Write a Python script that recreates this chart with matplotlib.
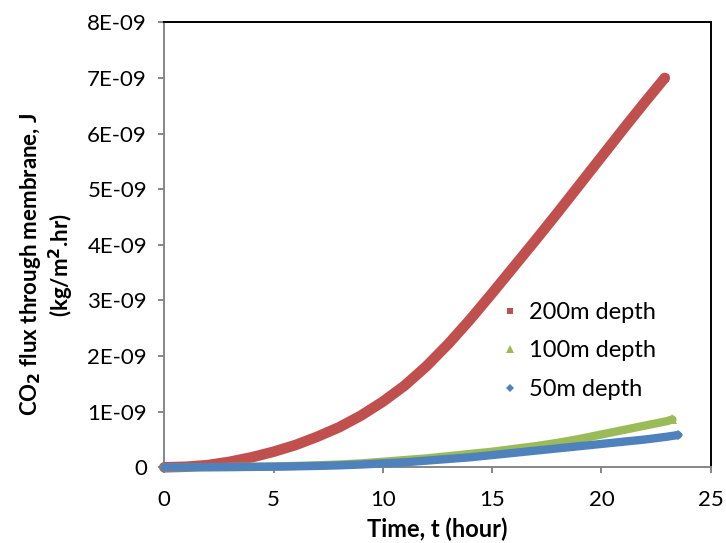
import matplotlib
matplotlib.use("Agg")
import matplotlib.pyplot as plt
from matplotlib.lines import Line2D
from matplotlib.ticker import FuncFormatter

plt.rcParams['font.family'] = ['Lato', 'DejaVu Sans']

# Flux values in units of 1E-09 kg/m2.hr
t_200 = [0, 1, 2, 3, 4, 5, 6, 7, 8, 9, 10, 11, 12, 13, 14, 15, 16, 17, 18, 19,
         20, 21, 22, 22.9]
j_200 = [0, 0.01, 0.04, 0.10, 0.18, 0.28, 0.40, 0.55, 0.72, 0.93, 1.18, 1.47,
         1.82, 2.22, 2.66, 3.13, 3.61, 4.09, 4.58, 5.08, 5.58, 6.08, 6.57, 7.0]

t_100 = [0, 1, 2, 3, 4, 5, 6, 7, 8, 9, 10, 11, 12, 13, 14, 15, 16, 17, 18, 19,
         20, 21, 22, 23, 23.25]
j_100 = [0, 0, 0.002, 0.005, 0.01, 0.015, 0.025, 0.035, 0.05, 0.07, 0.10, 0.13,
         0.16, 0.20, 0.24, 0.28, 0.33, 0.38, 0.44, 0.51, 0.59, 0.67, 0.75, 0.83,
         0.86]

t_50 = [0, 1, 2, 3, 4, 5, 6, 7, 8, 9, 10, 11, 12, 13, 14, 15, 16, 17, 18, 19,
        20, 21, 22, 23, 23.5]
j_50 = [0, 0, 0.002, 0.004, 0.007, 0.011, 0.017, 0.025, 0.035, 0.05, 0.07, 0.09,
        0.12, 0.15, 0.18, 0.22, 0.26, 0.30, 0.34, 0.38, 0.42, 0.46, 0.50, 0.55,
        0.58]

labels = ["200m depth", "100m depth", "50m depth"]
colors = ["#C0504D", "#9BBB59", "#4F81BD"]
markers = ["s", "^", "D"]
x_ticks = [0, 5, 10, 15, 20, 25]
y_ticks = [0, 1, 2, 3, 4, 5, 6, 7, 8]

SCALE = 1e-9

fig = plt.figure(figsize=(7.26, 5.43), dpi=100)
ax = fig.add_axes([164.3 / 726, 1 - 467.3 / 543, (710.7 - 164.3) / 726, (467.3 - 22.3) / 543])

series = [(t_200, j_200, 7.6, 6.4), (t_100, j_100, 6.0, 6.5), (t_50, j_50, 6.0, 5.5)]
for (t, j, lw, ms), col, mk in zip(series, colors, markers):
    y = [v * SCALE for v in j]
    ax.plot(t, y, color=col, lw=lw, solid_capstyle='round', solid_joinstyle='round',
            marker=mk, markevery=[len(t) - 1], markersize=ms, markeredgewidth=0,
            clip_on=False, zorder=3)

ax.set_xlim(0, 25)
ax.set_ylim(0, 8e-9)
ax.set_xticks(x_ticks)
ax.set_yticks([v * SCALE for v in y_ticks])


def fmt_y(v, pos):
    n = int(round(v / SCALE))
    return "0" if n == 0 else f"{n}E-09"


ax.yaxis.set_major_formatter(FuncFormatter(fmt_y))

for side in ("left", "bottom"):
    ax.spines[side].set_color("#868686")
    ax.spines[side].set_linewidth(1.4)
for side in ("top", "right"):
    ax.spines[side].set_color("#000000")
    ax.spines[side].set_linewidth(1.4)

ax.tick_params(axis="both", direction="out", length=4.5, width=1.4, color="#868686",
               labelsize=16, labelcolor="black")
ax.tick_params(axis="x", pad=12)
ax.tick_params(axis="y", pad=8)

ax.set_xlabel("Time, t (hour)", fontsize=17, fontweight="bold")
ax.xaxis.set_label_coords(0.5, -0.112)
ax.set_ylabel("CO$_\\mathbf{2}$ flux through membrane, J\n(kg/m$^\\mathbf{2}$.hr)",
              fontsize=16, fontweight="bold", multialignment="center", linespacing=1.2)
ax.yaxis.set_label_coords(-0.161, 0.455)

handles = [Line2D([], [], ls="none", marker=m, color=c, markersize=ms, markeredgewidth=0)
           for m, c, ms in zip(markers, colors, [5, 5.5, 4.5])]
leg = ax.legend(handles, labels, loc="upper left", frameon=False, fontsize=17,
                bbox_to_anchor=(503 / 726, 1 - 302 / 543), bbox_transform=fig.transFigure,
                handlelength=0.6, handletextpad=0.5, labelspacing=0.74, borderpad=0,
                borderaxespad=0)

fig.savefig("out.png", dpi=100)
